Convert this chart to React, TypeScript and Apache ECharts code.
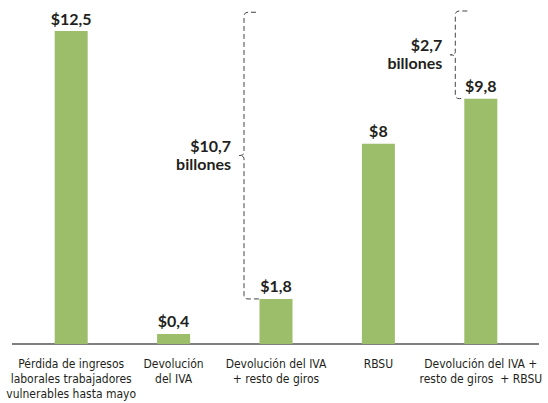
import React, { useEffect, useRef } from "react";
import * as echarts from "echarts";

const categories = [
  "Pérdida de ingresos\nlaborales trabajadores\nvulnerables hasta mayo",
  "Devolución\ndel IVA",
  "Devolución del IVA\n+ resto de giros",
  "RBSU",
  "Devolución del IVA +\nresto de giros  + RBSU",
];
const values = [12.5, 0.4, 1.8, 8, 9.8];
const valueLabels = ["$12,5", "$0,4", "$1,8", "$8", "$9,8"];
// brackets: [category index, low value, high value, amount, unit]
const brackets: [number, number, number, string, string][] = [
  [2, 1.8, 13.25, "$10,7", "billones"],
  [4, 9.8, 13.3, "$2,7", "billones"],
];
const bracketOffsets = [-32, -25.5];

const TEXT = "#231f20";
const GREEN = "#9cbd6a";
const BOLD_FONT = "Lato, 'Open Sans', sans-serif";

export default function App() {
  const ref = useRef<HTMLDivElement>(null);
  useEffect(() => {
    if (!ref.current) return;
    const chart = echarts.init(ref.current, null, { renderer: "svg" });
    chart.setOption({
      animation: false,
      grid: { left: 20, right: 16, top: 6, bottom: 59, containLabel: false },
      xAxis: {
        type: "category",
        data: categories,
        axisLine: { show: false },
        axisTick: { show: false },
        axisLabel: {
          interval: 0,
          color: TEXT,
          fontFamily: "'DejaVu Sans Condensed', sans-serif",
          fontSize: 12,
          lineHeight: 15,
          margin: 12,
        },
      },
      yAxis: {
        type: "value",
        min: 0,
        max: 13.5,
        show: false,
        splitLine: { show: false },
      },
      graphic: [
        {
          type: "line",
          shape: { x1: 12, y1: 344, x2: 539, y2: 344 },
          style: { stroke: "#000", lineWidth: 1.2 },
        },
      ],
      series: [
        {
          type: "bar",
          data: values,
          barWidth: 33,
          itemStyle: { color: GREEN },
          label: {
            show: true,
            position: "top",
            distance: 5,
            formatter: (p: any) => valueLabels[p.dataIndex],
            color: TEXT,
            fontWeight: "bold",
            fontSize: 16,
            fontFamily: BOLD_FONT,
          },
        },
        {
          type: "custom",
          data: brackets.map((b) => [b[0], b[1], b[2]]),
          clip: false,
          renderItem: (params: any, api: any) => {
            const i = params.dataIndex;
            const idx = api.value(0);
            const lo = api.value(1);
            const hi = api.value(2);
            const top = api.coord([idx, hi]);
            const bot = api.coord([idx, lo]);
            const x = top[0] + bracketOffsets[i];
            const yt = top[1];
            const yb = bot[1];
            const ym = (yt + yb) / 2;
            const barLeft = bot[0] - 16.5;
            const d =
              `M ${x + 12} ${yt} L ${x + 4} ${yt} Q ${x} ${yt} ${x} ${yt + 4} ` +
              `L ${x} ${ym - 3} Q ${x} ${ym} ${x - 5} ${ym} Q ${x} ${ym} ${x} ${ym + 3} ` +
              `L ${x} ${yb - 4} Q ${x} ${yb} ${x + 4} ${yb} L ${barLeft} ${yb}`;
            const textStyle = {
              align: "right",
              verticalAlign: "middle",
              fill: TEXT,
              fontWeight: "bold",
              fontSize: 16,
              fontFamily: BOLD_FONT,
            };
            return {
              type: "group",
              children: [
                {
                  type: "path",
                  shape: { pathData: d },
                  style: {
                    fill: "none",
                    stroke: "#444",
                    lineWidth: 1,
                    lineDash: [5, 3],
                  },
                },
                {
                  type: "text",
                  x: x - 13,
                  y: ym - 10,
                  style: { ...textStyle, text: brackets[i][3] },
                },
                {
                  type: "text",
                  x: x - 13,
                  y: ym + 8,
                  style: { ...textStyle, text: brackets[i][4] },
                },
              ],
            };
          },
        },
      ],
    });
    return () => chart.dispose();
  }, []);
  return <div ref={ref} style={{ width: 548, height: 403, position: "absolute", left: 0, top: 0 }} />;
}
